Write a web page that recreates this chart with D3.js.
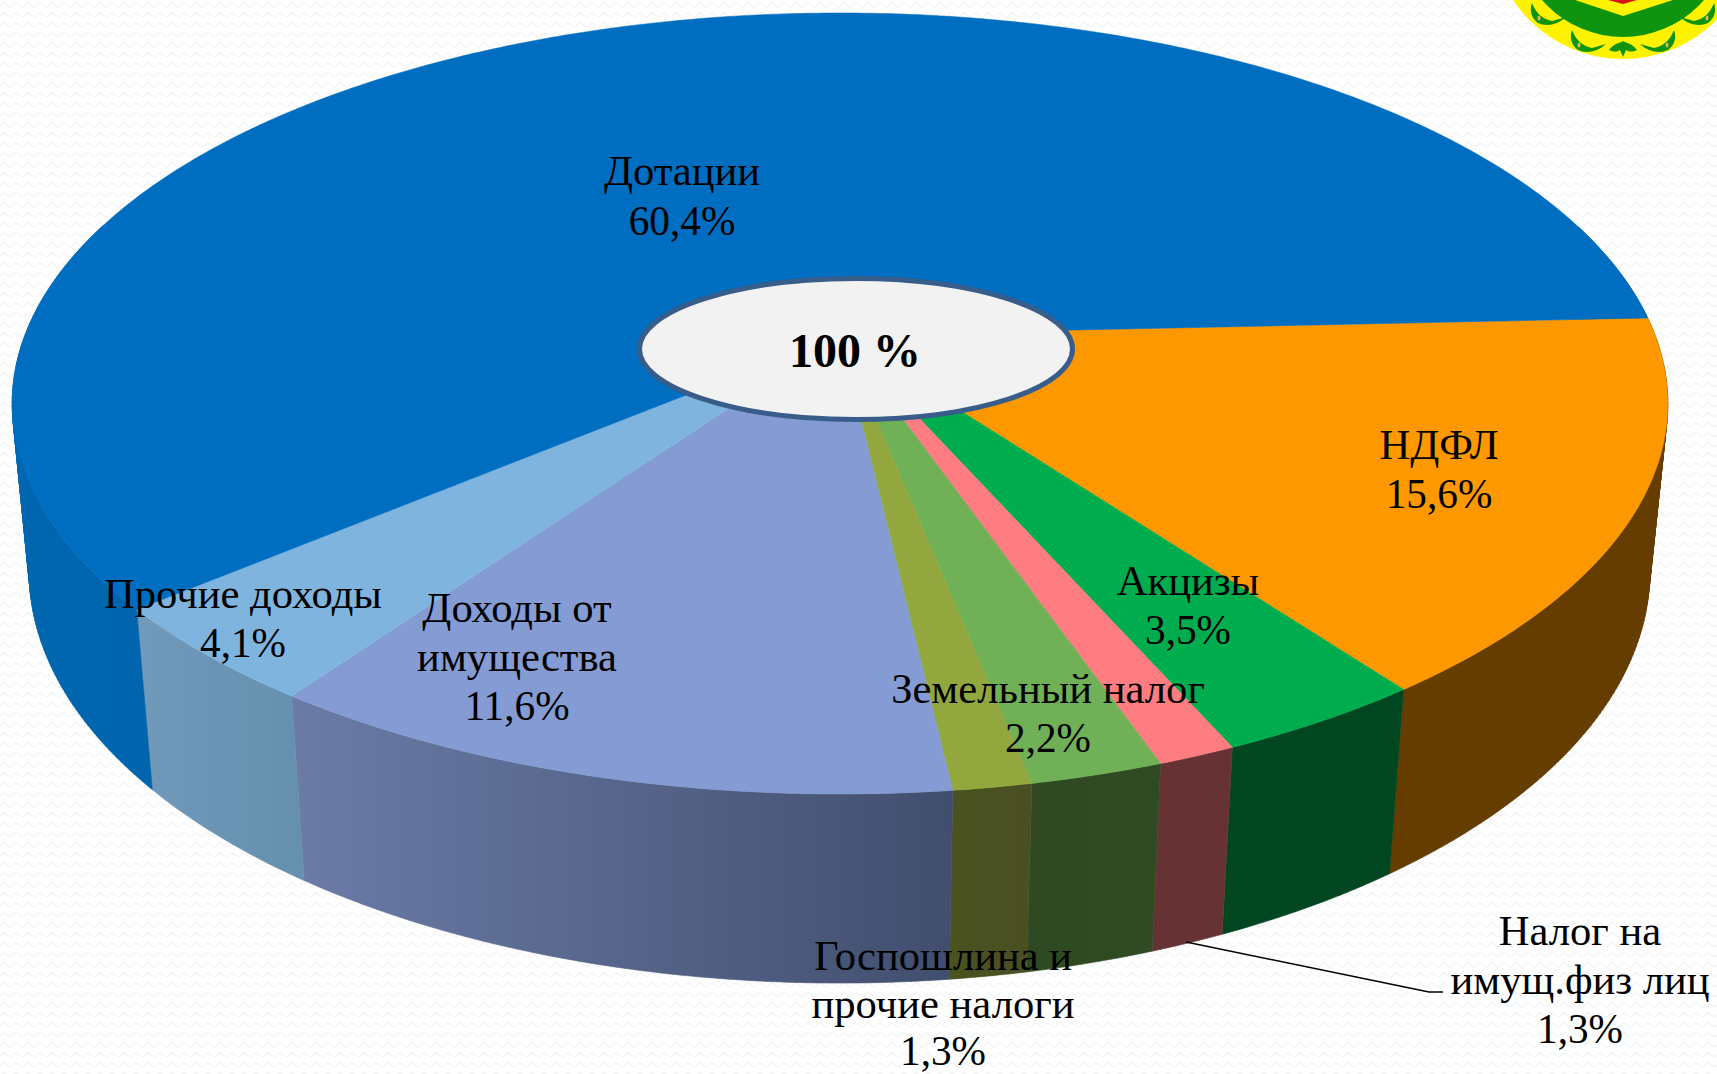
<!DOCTYPE html>
<html>
<head>
<meta charset="utf-8">
<script src="https://cdn.jsdelivr.net/npm/d3@7"></script>
<style>
    html, body { margin: 0; padding: 0; background: #fff; }
    svg { display: block; }
    text { font-family: "Liberation Serif", "Times New Roman", serif; fill: #000; }
</style>
</head>
<body>
<div id="chart"></div>
<script>
// values, clockwise from the top right slice
let categories = ["НДФЛ", "Акцизы", "Налог на имущ.физ лиц", "Земельный налог", "Госпошлина и прочие налоги", "Доходы от имущества", "Прочие доходы", "Дотации"];
let shares = [15.6, 3.5, 1.3, 2.2, 1.3, 11.6, 4.1, 60.4];
let totalLabel = "100 %";

// colours per slice
let topColors = ["#fd9800", "#00ad4e", "#ff7c80", "#70b056", "#92a83f", "#849bd3", "#7fb4de", "#006ec0"];
let wallFrom = ["#653d00", "#004620", "#663234", "#2f4a22", "#4a5220", "#6b7ba6", "#7199ba", "#0066b0"];
let wallTo = ["#653d00", "#004620", "#663234", "#304b23", "#4a4f22", "#414e6e", "#6490ae", "#00599f"];

// label lines per slice and where they sit (centre x, first baseline, line gap)
let labelLines = [["НДФЛ", "15,6%"], ["Акцизы", "3,5%"], ["Налог на", "имущ.физ лиц", "1,3%"], ["Земельный налог", "2,2%"], ["Госпошлина и", "прочие налоги", "1,3%"], ["Доходы от", "имущества", "11,6%"], ["Прочие доходы", "4,1%"], ["Дотации", "60,4%"]];
let labelSpots = [[1439, 459, 49], [1188, 595, 49], [1580, 945, 49], [1048, 703, 49], [943, 970, 47.5], [517, 622, 49], [243, 608, 49], [682, 185, 50]];

const width = 1717, height = 1074;

// perspective of the disc
let persp = {k: 0.1754, n: 0.021, depth: 169.5, shiftX: -0.5};
let startAngle = 87.4 * Math.PI / 180;

let xScale = d3.scaleLinear().domain([0, 1]).range([840, 840 + 815]);
let yScale = d3.scaleLinear().domain([0, 1]).range([335, 335 + 378.5]);

// angle on the disc -> screen point, z = 0 top face, z = 1 bottom face
function project(angle, z) {
    let u = Math.sin(angle), v = -Math.cos(angle);
    let w = 1 - persp.k * v + persp.n * z;
    return [xScale(u / w) + persp.shiftX * z / w, yScale(v / w) + persp.depth * z / w];
}

function arcAngles(a0, a1) {
    let steps = Math.max(2, Math.ceil((a1 - a0) / 0.01));
    return d3.range(steps + 1).map(i => a0 + (a1 - a0) * i / steps);
}

let pie = d3.pie().sort(null).value(d => d).startAngle(startAngle).endAngle(startAngle + 2 * Math.PI);
let slices = pie(shares);
let line = d3.line();

let svg = d3.select("#chart").append("svg")
    .attr("width", width)
    .attr("height", height);

let defs = svg.append("defs");

// faint wavy background
let bg = defs.append("pattern")
    .attr("id", "bgWave")
    .attr("patternUnits", "userSpaceOnUse")
    .attr("width", 12)
    .attr("height", 10);
bg.append("path")
    .attr("d", "M0 7 Q3 1 6 4 Q9 7 12 7")
    .attr("fill", "none")
    .attr("stroke", "#f4f5f6")
    .attr("stroke-width", 1.6);
svg.append("rect").attr("width", width).attr("height", height).attr("fill", "#fff");
svg.append("rect").attr("width", width).attr("height", height).attr("fill", "url(#bgWave)");

// logo in the corner
let logo = svg.append("g").attr("transform", "translate(1623,0)");
logo.append("circle").attr("cy", -73).attr("r", 132).attr("fill", "#fff200");
logo.append("circle").attr("cy", -70).attr("r", 107).attr("fill", "#0f9410");
logo.append("path").attr("d", "M-48 0 L0 16 L50 0 L50 -10 L-48 -10 Z").attr("fill", "#fff200");
logo.append("path").attr("d", "M-15 0 L0 4 L14 0 Z").attr("fill", "#d9101a");
let leaf = "M0 0 C4 10 10 16 20 18 L34 14 C26 22 14 24 6 20 C0 16 -3 8 0 0 Z";
[[-51, 30, 1], [51, 30, -1], [-91, 3, 1], [91, 3, -1]].forEach(p => {
    logo.append("path").attr("d", leaf)
        .attr("transform", `translate(${p[0]},${p[1]}) scale(${p[2]},1)`)
        .attr("fill", "#0f9410");
    logo.append("ellipse")
        .attr("cx", p[0] + p[2] * 7).attr("cy", p[1] + 15)
        .attr("rx", 1.5).attr("ry", 2.5)
        .attr("fill", "#e8b84a");
});
logo.append("path")
    .attr("d", "M0 41 C4 44 8 42 14 50 C8 53 5 51 3 50 L0 57 L-3 50 C-5 51 -8 53 -14 50 C-8 42 -4 44 0 41 Z")
    .attr("fill", "#0f9410");

// side walls first, the top faces paint over the hidden back part
slices.forEach((s, i) => {
    let angles = arcAngles(s.startAngle, s.endAngle);
    let d = "";
    let xs = [];
    d3.pairs(angles).forEach(([a0, a1]) => {
        // skip the strip behind the disc
        if (-Math.cos(a0) < -0.3 && -Math.cos(a1) < -0.3) return;
        let quad = [project(a0, 0), project(a1, 0), project(a1, 1), project(a0, 1)];
        xs.push(quad[0][0], quad[3][0]);
        // same winding for every quad so they never cancel near the silhouette
        if (d3.polygonArea(quad) < 0) quad.reverse();
        d += line(quad) + "Z";
    });

    let grad = defs.append("linearGradient")
        .attr("id", "wall" + i)
        .attr("gradientUnits", "userSpaceOnUse")
        .attr("x1", d3.min(xs)).attr("x2", d3.max(xs))
        .attr("y1", 0).attr("y2", 0);
    grad.append("stop").attr("offset", 0).attr("stop-color", wallFrom[i]);
    grad.append("stop").attr("offset", 1).attr("stop-color", wallTo[i]);

    svg.append("path")
        .attr("class", "wall")
        .attr("d", d)
        .attr("fill", `url(#wall${i})`)
        .attr("stroke", `url(#wall${i})`)
        .attr("stroke-width", 0.6);
});

// top faces
slices.forEach((s, i) => {
    let pts = [[xScale(0), yScale(0)]]
        .concat(arcAngles(s.startAngle, s.endAngle).map(a => project(a, 0)));
    svg.append("path")
        .attr("class", "slice")
        .attr("d", line(pts) + "Z")
        .attr("fill", topColors[i])
        .attr("stroke", topColors[i])
        .attr("stroke-width", 0.5);
});

// leader line for the small tax slice
svg.append("path")
    .attr("d", line([[1186, 942], [1429, 992], [1443, 992]]))
    .attr("fill", "none")
    .attr("stroke", "#000")
    .attr("stroke-width", 1.6);

// centre badge
svg.append("ellipse")
    .attr("cx", 856).attr("cy", 349)
    .attr("rx", 216.5).attr("ry", 70.5)
    .attr("fill", "#f2f2f2")
    .attr("stroke", "#385d8a")
    .attr("stroke-width", 5);
svg.append("text")
    .attr("x", 855).attr("y", 367)
    .attr("text-anchor", "middle")
    .attr("font-size", 48)
    .attr("font-weight", "bold")
    .text(totalLabel);

// labels, the names run a bit wider than the figures in the original
labelLines.forEach((lines, i) => {
    let t = svg.append("text")
        .attr("class", "label")
        .attr("text-anchor", "middle");
    lines.forEach((d, j) => {
        t.append("tspan")
            .attr("x", labelSpots[i][0])
            .attr("y", labelSpots[i][1] + j * labelSpots[i][2])
            .attr("font-size", /%$/.test(d) ? 41.3 : 42.6)
            .text(d);
    });
});
</script>
</body>
</html>
